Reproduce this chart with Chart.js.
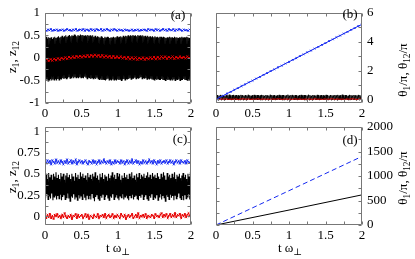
<!DOCTYPE html>
<html><head><meta charset="utf-8">
<script src="https://cdn.jsdelivr.net/npm/chart.js@4.4.1/dist/chart.umd.min.js"></script>
<style>
html,body{margin:0;padding:0;background:#fff;}
#wrap{position:relative;width:415px;height:259px;overflow:hidden;background:#fff;}
canvas{position:absolute;left:0;top:0;}
</style></head>
<body><div id="wrap">
<canvas id="ca" width="415" height="259"></canvas>
<canvas id="cb" width="415" height="259"></canvas>
<canvas id="cc" width="415" height="259"></canvas>
<canvas id="cd" width="415" height="259"></canvas>
</div>
<script>
// ---- data (t from 0 to 2, samples evenly spread across the series) ----
const T_MAX = 2;
const xTicks = [0, 0.5, 1, 1.5, 2];

// panel (a): z1 (black), z12 (red), blue
const a_black = [
0.45,-0.50,0.47,-0.48,0.43,-0.51,0.46,-0.49,0.44,-0.47,
0.46,-0.50,0.42,-0.48,0.45,-0.49,0.47,-0.46,0.44,-0.50,
0.46,-0.47,0.48,-0.49,0.45,-0.46,0.47,-0.48,0.49,-0.45,
0.46,-0.47,0.48,-0.44,0.50,-0.46,0.47,-0.45,0.49,-0.43,
0.51,-0.45,0.48,-0.44,0.50,-0.42,0.49,-0.45,0.52,-0.43,
0.50,-0.44,0.48,-0.42,0.51,-0.45,0.49,-0.43,0.52,-0.44,
0.50,-0.43,0.51,-0.45,0.49,-0.42,0.50,-0.44,0.48,-0.46,
0.51,-0.43,0.49,-0.45,0.50,-0.47,0.48,-0.44,0.50,-0.46,
0.47,-0.45,0.49,-0.47,0.46,-0.44,0.48,-0.46,0.47,-0.48,
0.45,-0.46,0.48,-0.49,0.46,-0.47,0.44,-0.48,0.47,-0.50,
0.45,-0.48,0.47,-0.46,0.46,-0.49,0.44,-0.47,0.46,-0.50,
0.45,-0.48,0.47,-0.49,0.45,-0.47,0.46,-0.50,0.48,-0.48,
0.46,-0.49,0.47,-0.47,0.48,-0.50,0.46,-0.48,0.49,-0.47,
0.47,-0.49,0.49,-0.46,0.48,-0.48,0.50,-0.47,0.48,-0.45,
0.50,-0.47,0.49,-0.45,0.51,-0.46,0.49,-0.44,0.50,-0.46,
0.48,-0.44,0.51,-0.46,0.49,-0.45,0.50,-0.43,0.48,-0.46,
0.50,-0.44,0.48,-0.46,0.49,-0.45,0.47,-0.47,0.49,-0.45,
0.47,-0.48,0.48,-0.46,0.46,-0.48,0.48,-0.47,0.46,-0.49,
0.48,-0.47,0.46,-0.49,0.47,-0.46,0.45,-0.48,0.47,-0.49,
0.47,-0.47,0.45,-0.49,0.47,-0.48,0.46,-0.50,0.44,-0.48,
0.46,-0.49,0.45,-0.47,0.47,-0.49,0.45,-0.48,0.46,-0.50,
0.44,-0.48,0.47,-0.50,0.45,-0.47,0.46,-0.49,0.44,-0.48,
0.46,-0.50,0.45,-0.48,0.47,-0.49,0.45,-0.47,0.46,-0.49,
0.45,-0.48,0.47,-0.50,0.46,-0.48,0.44,-0.49,0.46,-0.48];
const a_blue = [
0.62,0.60,0.63,0.61,0.64,0.60,0.62,0.61,0.63,0.60,
0.62,0.61,0.63,0.60,0.62,0.64,0.61,0.62,0.60,0.63,
0.61,0.64,0.60,0.62,0.63,0.61,0.64,0.60,0.63,0.62,
0.60,0.64,0.61,0.63,0.60,0.64,0.62,0.61,0.64,0.60,
0.63,0.61,0.64,0.62,0.60,0.63,0.61,0.64,0.62,0.60,
0.63,0.61,0.62,0.60,0.63,0.61,0.62,0.60,0.61,0.63,
0.60,0.62,0.61,0.63,0.60,0.62,0.61,0.63,0.62,0.60,
0.64,0.61,0.63,0.62,0.60,0.64,0.61,0.63,0.60,0.62,
0.64,0.61,0.63,0.60,0.64,0.62,0.61,0.64,0.60,0.63,
0.61,0.64,0.62,0.60,0.63,0.61,0.62,0.60,0.63,0.61];
const a_red = [
-0.06,-0.02,-0.07,-0.03,-0.06,-0.02,-0.05,-0.01,-0.04,0.00,
-0.03,0.01,-0.02,0.02,-0.01,0.03,0.00,0.04,0.01,0.04,
0.01,0.05,0.02,0.06,0.02,0.06,0.03,0.07,0.03,0.06,
0.02,0.06,0.01,0.05,0.01,0.04,0.00,0.04,0.00,0.03,
0.00,0.03,-0.01,0.02,-0.02,0.02,-0.03,0.01,-0.03,0.01,
-0.04,0.00,-0.03,0.01,-0.04,0.00,-0.03,0.01,-0.02,0.02,
-0.03,0.02,-0.02,0.03,-0.01,0.03,-0.02,0.02,-0.01,0.03,
-0.02,0.02,-0.01,0.03,0.00,0.02,-0.01,0.03,0.00,0.02];

// panel (b): theta1/pi (black), theta12/pi (red), blue
const b_black = [
0.28,-0.03,0.30,-0.05,0.26,-0.02,0.31,-0.04,0.27,0.00,
0.29,-0.05,0.25,-0.03,0.30,-0.01,0.28,-0.04,0.32,-0.02,
0.26,-0.05,0.29,-0.03,0.31,0.00,0.27,-0.04,0.30,-0.02,
0.28,-0.05,0.25,-0.03,0.31,-0.01,0.29,-0.04,0.26,-0.02,
0.30,-0.05,0.27,-0.03,0.32,0.00,0.28,-0.04,0.25,-0.02,
0.29,-0.05,0.31,-0.03,0.26,-0.01,0.30,-0.04,0.28,-0.02,
0.27,-0.05,0.31,-0.03,0.29,0.00,0.25,-0.04,0.30,-0.02,
0.28,-0.05,0.26,-0.03,0.32,-0.01,0.29,-0.04,0.27,-0.02,
0.30,-0.05,0.25,-0.03,0.28,0.00,0.31,-0.04,0.26,-0.02,
0.29,-0.05,0.30,-0.03,0.27,-0.01,0.28,-0.04,0.32,-0.02,
0.26,-0.05,0.29,-0.03,0.31,0.00,0.27,-0.04,0.30,-0.02,
0.28,-0.05,0.25,-0.03,0.29,-0.01,0.31,-0.04,0.26,-0.02,
0.30,-0.05,0.28,-0.03,0.27,0.00,0.32,-0.04,0.29,-0.02,
0.25,-0.05,0.30,-0.03,0.28,-0.01,0.26,-0.04,0.31,-0.02,
0.29,-0.05,0.27,-0.03,0.30,0.00,0.28,-0.04,0.25,-0.02,
0.31,-0.05,0.29,-0.03,0.26,-0.01,0.30,-0.04,0.28,-0.02,
0.27,-0.04,0.30,-0.02,0.28,-0.05,0.31,-0.01,0.26,-0.03,
0.29,-0.05,0.32,-0.02,0.27,-0.04,0.30,0.00,0.28,-0.03,
0.25,-0.05,0.31,-0.02,0.29,-0.04,0.26,-0.01,0.30,-0.03,
0.28,-0.05,0.27,-0.02,0.31,-0.04,0.29,0.00,0.26,-0.03];
const b_blue = [
0.00,0.14,0.26,0.40,0.52,0.66,0.78,0.92,1.04,1.18,1.30,1.44,1.56,1.70,
1.82,1.96,2.08,2.22,2.34,2.48,2.60,2.74,2.86,3.00,3.12,3.26,3.38,3.52,
3.64,3.78,3.90,4.04,4.16,4.30,4.42,4.56,4.68,4.82,4.94,5.08,5.20];
const b_red = [
0.02,0.00,0.03,0.01,0.04,0.00,0.02,0.01,0.03,0.00,
0.02,0.04,0.01,0.03,0.00,0.02,0.01,0.04,0.00,0.03,
0.01,0.02,0.00,0.03,0.01,0.04,0.02,0.00,0.03,0.01,
0.02,0.00,0.04,0.01,0.03,0.00,0.02,0.01,0.03,0.00,
0.04,0.01,0.02,0.00,0.03,0.01,0.02,0.04,0.00,0.03,
0.01,0.02,0.00,0.03,0.01,0.04,0.02,0.00,0.03,0.01];

// panel (c)
const c_black = [
0.48,0.22,0.50,0.26,0.44,0.20,0.51,0.24,0.46,0.21,
0.49,0.27,0.43,0.19,0.50,0.23,0.47,0.25,0.52,0.20,
0.45,0.24,0.49,0.21,0.44,0.26,0.51,0.19,0.47,0.23,
0.50,0.25,0.43,0.20,0.48,0.22,0.51,0.27,0.46,0.21,
0.49,0.18,0.44,0.24,0.50,0.22,0.47,0.26,0.42,0.20,
0.51,0.23,0.46,0.19,0.49,0.25,0.44,0.21,0.52,0.24,
0.47,0.20,0.50,0.26,0.45,0.22,0.48,0.19,0.43,0.25,
0.51,0.21,0.46,0.24,0.49,0.20,0.44,0.27,0.50,0.22,
0.47,0.18,0.52,0.23,0.45,0.25,0.48,0.21,0.43,0.19,
0.50,0.24,0.46,0.22,0.51,0.26,0.44,0.20,0.49,0.23,
0.47,0.25,0.42,0.21,0.50,0.19,0.45,0.24,0.48,0.22,
0.52,0.26,0.46,0.20,0.49,0.23,0.44,0.25,0.51,0.21,
0.47,0.19,0.50,0.24,0.43,0.22,0.48,0.26,0.45,0.20,
0.51,0.23,0.46,0.25,0.49,0.21,0.44,0.19,0.50,0.24,
0.47,0.22,0.52,0.26,0.45,0.20,0.48,0.23,0.43,0.25,
0.50,0.21,0.46,0.19,0.51,0.24,0.44,0.22,0.49,0.26,
0.47,0.20,0.50,0.23,0.45,0.25,0.48,0.21,0.52,0.19,
0.46,0.24,0.49,0.22,0.44,0.26,0.51,0.20,0.47,0.23,
0.49,0.21,0.45,0.25,0.51,0.19,0.47,0.23,0.44,0.26,
0.50,0.20,0.46,0.24,0.52,0.22,0.48,0.18,0.43,0.25,
0.51,0.23,0.47,0.20,0.49,0.26,0.45,0.22,0.50,0.24,
0.46,0.19,0.52,0.25,0.44,0.21,0.49,0.23,0.47,0.27,
0.50,0.22,0.45,0.20,0.48,0.24,0.51,0.19,0.46,0.25,
0.49,0.21,0.44,0.23,0.50,0.26,0.47,0.20,0.52,0.22];
const c_blue = [
0.64,0.62,0.66,0.63,0.65,0.61,0.66,0.64,0.62,0.67,
0.63,0.65,0.62,0.66,0.64,0.61,0.65,0.63,0.67,0.62,
0.64,0.66,0.62,0.65,0.63,0.67,0.61,0.64,0.66,0.63,
0.65,0.62,0.64,0.66,0.63,0.61,0.65,0.64,0.62,0.66,
0.63,0.65,0.61,0.64,0.66,0.62,0.65,0.63,0.67,0.64,
0.62,0.65,0.63,0.66,0.61,0.64,0.62,0.66,0.63,0.65,
0.64,0.62,0.66,0.63,0.65,0.61,0.64,0.66,0.62,0.65,
0.63,0.67,0.62,0.64,0.66,0.63,0.65,0.61,0.64,0.62,
0.66,0.63,0.65,0.62,0.64,0.67,0.63,0.65,0.62,0.66,
0.64,0.61,0.65,0.63,0.66,0.62,0.64,0.65,0.63,0.66,
0.62,0.64,0.66,0.63,0.65,0.61,0.64,0.66,0.63,0.65,
0.62,0.66,0.64,0.63,0.65,0.62,0.66,0.64,0.63,0.65];
const c_red = [
0.00,-0.02,0.02,-0.01,0.03,-0.02,0.01,-0.03,0.02,0.00,
0.03,-0.01,0.01,-0.02,0.02,-0.01,0.04,0.00,-0.02,0.01,
-0.01,0.02,-0.03,0.01,0.00,0.03,-0.02,0.02,-0.01,0.01,
0.02,-0.02,0.00,0.03,-0.01,0.02,-0.03,0.01,0.00,-0.02,
0.02,0.00,-0.01,0.03,-0.02,0.01,0.00,0.02,-0.01,0.03,
-0.02,0.01,0.02,-0.01,0.00,0.03,-0.02,0.01,-0.01,0.02,
0.00,-0.02,0.03,0.01,-0.01,0.02,-0.03,0.00,0.02,-0.01,
0.01,0.03,-0.02,0.00,0.02,-0.01,0.04,-0.02,0.01,0.00,
0.02,-0.01,0.03,-0.02,0.01,0.00,-0.01,0.02,0.01,-0.02,
0.03,0.00,0.01,-0.01,0.02,0.04,-0.01,0.02,0.00,0.03,
-0.02,0.01,0.03,-0.01,0.02,0.00,0.04,-0.01,0.02,0.01,
0.03,-0.02,0.02,0.00,0.03,-0.01,0.02,0.04,0.00,0.01];

// panel (d)
const d_black = [0, 305, 615];
const d_blue = [0, 700, 1400];

// y tick labels
const a_yTicks = [-1, -0.5, 0, 0.5, 1];
const b_yTicks = [0, 2, 4, 6];
const c_yTicks = [0, 0.25, 0.5, 0.75, 1];
const d_yTicks = [0, 500, 1000, 1500, 2000];

// ---- helpers ----
const FONT = '"Liberation Serif", "DejaVu Serif", serif';
const FS = 13;
const BLUE = '#1428f0', RED = '#e60000', BLACK = '#000';
const FRAME = '#777';

function series(arr) {
  return arr.map((v, i) => ({ x: T_MAX * i / (arr.length - 1), y: v }));
}

function drawRich(ctx, segs, x, y, rot) {
  ctx.save();
  ctx.translate(x, y);
  ctx.rotate(rot);
  const sizes = segs.map(s => s.sub ? FS * 0.72 : FS);
  let total = 0;
  segs.forEach((s, i) => { ctx.font = sizes[i] + 'px ' + FONT; total += ctx.measureText(s.t).width; });
  let cx = -total / 2;
  ctx.fillStyle = '#000';
  ctx.textBaseline = 'alphabetic';
  segs.forEach((s, i) => {
    ctx.font = sizes[i] + 'px ' + FONT;
    const dy = s.sub ? FS * 0.33 + 3 : FS * 0.33;
    ctx.fillText(s.t, cx, dy);
    cx += ctx.measureText(s.t).width;
  });
  ctx.restore();
}

const decor = {
  id: 'decor',
  afterDatasetsDraw(chart, args, o) {
    const { ctx, chartArea: a, scales: { x, y } } = chart;
    ctx.save();
    ctx.strokeStyle = FRAME;
    ctx.lineWidth = 1;
    const L = Math.round(a.left) + 0.5, R = Math.round(a.right) - 0.5;
    const T = Math.round(a.top) + 0.5, B = Math.round(a.bottom) - 0.5;
    ctx.beginPath();
    const tick = (len, vx) => {
      const px = Math.round(x.getPixelForValue(vx)) + 0.5;
      ctx.moveTo(px, B); ctx.lineTo(px, B - len);
      ctx.moveTo(px, T); ctx.lineTo(px, T + len);
    };
    const ytick = (len, vy) => {
      const py = Math.round(y.getPixelForValue(vy)) + 0.5;
      ctx.moveTo(L, py); ctx.lineTo(L + len, py);
      ctx.moveTo(R, py); ctx.lineTo(R - len, py);
    };
    for (let v = x.min; v <= x.max + 1e-9; v += o.xMinor) tick(3, v);
    for (let v = o.yStart; v <= y.max + 1e-9; v += o.yMinor) ytick(3, v);
    ctx.stroke();
    ctx.beginPath();
    ctx.rect(L, T, R - L, B - T);
    ctx.stroke();
    ctx.restore();
    ctx.save();
    ctx.font = FS + 'px ' + FONT;
    ctx.fillStyle = '#000';
    ctx.textAlign = 'center';
    ctx.textBaseline = 'middle';
    ctx.fillText(o.tag, o.tagX, o.tagY);
    ctx.restore();
    if (o.ytitle) drawRich(ctx, o.ytitle, o.ytX, o.ytY, -Math.PI / 2);
    if (o.xtitle) drawRich(ctx, o.xtitle, o.xtX, o.xtY, 0);
  }
};

const Z_TITLE = [{ t: 'z' }, { t: '1', sub: true }, { t: ', z' }, { t: '12', sub: true }];
const TH_TITLE = [{ t: 'θ' }, { t: '1', sub: true }, { t: '/π, θ' }, { t: '12', sub: true }, { t: '/π' }];
const T_TITLE = [{ t: 't ω' }, { t: '⊥', sub: true }];

function fmt(v) { return String(+Number(v).toFixed(2)); }

function makeChart(id, cfg) {
  const right = cfg.yPos === 'right';
  const yTickSet = cfg.yTicks;
  return new Chart(document.getElementById(id), {
    type: 'line',
    data: { datasets: cfg.datasets },
    plugins: [decor],
    options: {
      responsive: false,
      animation: false,
      events: [],
      layout: { padding: cfg.pad },
      plugins: { legend: { display: false }, tooltip: { enabled: false }, decor: cfg.decor },
      elements: { line: { tension: 0 } },
      scales: {
        x: {
          type: 'linear', min: 0, max: T_MAX,
          grid: { display: false, drawTicks: false }, border: { display: false },
          afterFit: s => { s.height = cfg.xH; },
          afterBuildTicks: s => { s.ticks = xTicks.map(v => ({ value: v })); },
          ticks: { color: '#000', font: { family: FONT, size: FS }, padding: 3, maxRotation: 0, callback: fmt }
        },
        y: {
          type: 'linear', position: right ? 'right' : 'left',
          min: cfg.yMin, max: cfg.yMax,
          grid: { display: false, drawTicks: false }, border: { display: false },
          afterFit: s => { s.width = cfg.yW; },
          afterBuildTicks: s => { s.ticks = yTickSet.map(v => ({ value: v })); },
          ticks: { color: '#000', font: { family: FONT, size: FS }, padding: 5, callback: fmt }
        }
      }
    }
  });
}

function ds(arr, color, order, extra) {
  return Object.assign({ data: series(arr), borderColor: color, backgroundColor: color, borderWidth: 1,
    pointRadius: 0, order: order }, extra || {});
}

// (a)
makeChart('ca', {
  pad: { left: 0, right: 224, top: 5, bottom: 0 }, xH: 156, yW: 45,
  yMin: -1, yMax: 1, yTicks: a_yTicks,
  datasets: [
    ds(a_black, BLACK, 3, { borderWidth: 1.1 }),
    ds(a_blue, BLUE, 1, { pointRadius: 1.2, pointStyle: 'crossRot', pointBorderWidth: 1 }),
    ds(a_red, RED, 2, { pointRadius: 1.5, pointStyle: 'crossRot', pointBorderWidth: 1 })
  ],
  decor: { xMinor: 0.25, yStart: -1, yMinor: 0.25, tag: '(a)', tagX: 178, tagY: 16,
    ytitle: Z_TITLE, ytX: 12, ytY: 57 }
});
// (b)
makeChart('cb', {
  pad: { left: 216, right: 0, top: 5, bottom: 0 }, xH: 156, yW: 53, yPos: 'right',
  yMin: -0.25, yMax: 6, yTicks: b_yTicks,
  datasets: [
    ds(b_black, BLACK, 3),
    ds(b_blue, BLUE, 1, { pointRadius: 1.2, pointStyle: 'crossRot', pointBorderWidth: 1 }),
    ds(b_red, RED, 2)
  ],
  decor: { xMinor: 0.25, yStart: 0, yMinor: 1, tag: '(b)', tagX: 350, tagY: 15,
    ytitle: TH_TITLE, ytX: 403, ytY: 70 }
});
// (c)
makeChart('cc', {
  pad: { left: 0, right: 224, top: 127, bottom: 0 }, xH: 34, yW: 45,
  yMin: -0.1, yMax: 1.05, yTicks: c_yTicks,
  datasets: [
    ds(c_black, BLACK, 3, { borderWidth: 1.1 }),
    ds(c_blue, BLUE, 1, { pointRadius: 1.2, pointStyle: 'crossRot', pointBorderWidth: 1 }),
    ds(c_red, RED, 2, { pointRadius: 1.2, pointStyle: 'crossRot', pointBorderWidth: 1 })
  ],
  decor: { xMinor: 0.25, yStart: 0, yMinor: 0.125, tag: '(c)', tagX: 180, tagY: 140,
    ytitle: Z_TITLE, ytX: 12, ytY: 177, xtitle: T_TITLE, xtX: 118, xtY: 248 }
});
// (d)
makeChart('cd', {
  pad: { left: 216, right: 0, top: 127, bottom: 0 }, xH: 34, yW: 53, yPos: 'right',
  yMin: 0, yMax: 2000, yTicks: d_yTicks,
  datasets: [
    ds(d_black, BLACK, 2),
    ds(d_blue, BLUE, 1, { borderDash: [5, 3] })
  ],
  decor: { xMinor: 0.25, yStart: 0, yMinor: 250, tag: '(d)', tagX: 350, tagY: 141,
    ytitle: TH_TITLE, ytX: 403, ytY: 178, xtitle: T_TITLE, xtX: 290, xtY: 248 }
});
</script>
</body></html>
